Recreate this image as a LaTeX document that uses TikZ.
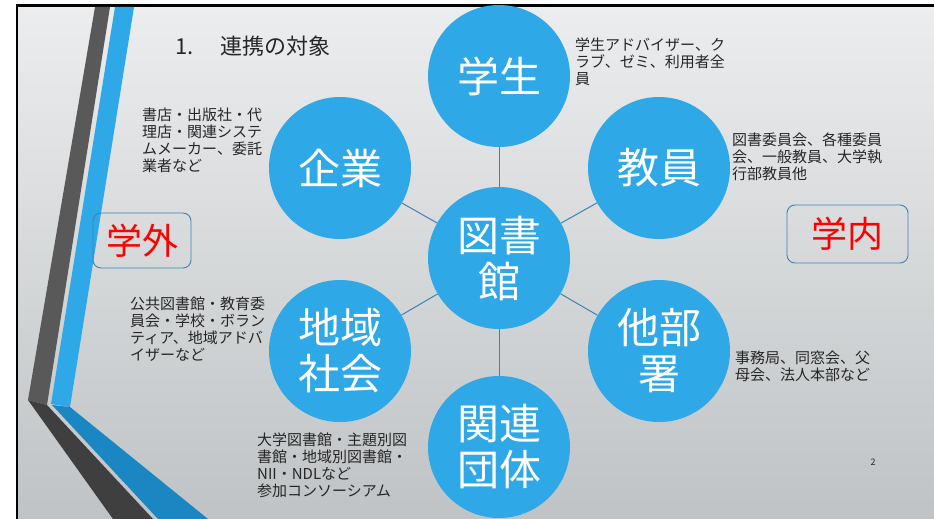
\documentclass[tikz,border=0pt]{standalone}
\usepackage{fontspec}
\setmainfont{Noto Sans CJK JP}
\usepackage{xcolor}
\usetikzlibrary{calc}

\definecolor{figlinkblue}{HTML}{2EA8E6}
\definecolor{figlinkline}{HTML}{3F82B2}
\definecolor{figlinkbox}{HTML}{3A84B8}
\definecolor{figlinkbgtop}{HTML}{ECEDEE}
\definecolor{figlinkbgbot}{HTML}{BFC3C5}
\definecolor{figlinkdark}{HTML}{595959}
\definecolor{figlinkdarker}{HTML}{3F3F3F}
\definecolor{figlinkdeep}{HTML}{1A86C2}

\begin{document}
\begin{tikzpicture}[x=1pt,y=-1pt,
    partner/.style={circle,fill=figlinkblue,text=white,inner sep=0pt,
        minimum size=2*\figlinkcircrad,align=center,
        font=\fontsize{42}{46}\selectfont},
    linkline/.style={draw=figlinkline,line width=1pt},
    notetext/.style={anchor=north west,inner sep=0pt,align=left,
        text=black!85,font=\fontsize{15}{16.9}\selectfont},
    zonebox/.style={draw=figlinkbox,line width=0.9pt,rounded corners=8pt,
        text=red,font=\fontsize{36}{40}\selectfont,inner sep=0pt}]
        \newcommand{\figlinkcircrad}{71}
        \newcommand{\figlinkleftx}{340}
        \newcommand{\figlinkmidx}{499}
        \newcommand{\figlinkrightx}{659}
        \useasboundingbox (0,0) rectangle (934,519);
        % slide background and frame
        \shade[top color=figlinkbgtop,bottom color=figlinkbgbot] (17,5.5) rectangle (934,519);
        \draw[line width=2.5pt] (17,519) -- (17,5.5) -- (934,5.5);
        % stripes on the left
        \fill[figlinkdark] (95,7) -- (110,7) -- (47,405) -- (28,400) -- cycle;
        \fill[figlinkblue] (115,7) -- (134,7) -- (70,407) -- (51,404) -- cycle;
        \fill[figlinkdarker] (28,400) -- (47,405) -- (153,519) -- (113,519) -- cycle;
        \fill[figlinkdeep] (52,405) -- (70,407) -- (208,519) -- (158,519) -- cycle;
        % title
        \node[anchor=north west,inner sep=0pt,text=black!85,font=\fontsize{22}{24}\selectfont]
            (title) at (175,36) {1.\hspace{27pt}連携の対象};
        % circles
        \node[partner] (tosho) at (\figlinkmidx,258) {図書\\館};
        \node[partner] (gakusei) at (\figlinkmidx,76) {学生};
        \node[partner] (kyoin) at (\figlinkrightx,168) {教員};
        \node[partner] (kigyo) at (\figlinkleftx,168) {企業};
        \node[partner] (chiiki) at (\figlinkleftx,351) {地域\\社会};
        \node[partner] (tabusho) at (\figlinkrightx,351) {他部\\署};
        \node[partner] (kanren) at (\figlinkmidx,447) {関連\\団体};
        \draw[linkline] (tosho) -- (gakusei);
        \draw[linkline] (tosho) -- (kyoin);
        \draw[linkline] (tosho) -- (kigyo);
        \draw[linkline] (tosho) -- (chiiki);
        \draw[linkline] (tosho) -- (tabusho);
        \draw[linkline] (tosho) -- (kanren);
        % notes beside the circles
        \node[notetext] (gakuseinote) at (575,38) {学生アドバイザー、ク\\ラブ、ゼミ、利用者全\\員};
        \node[notetext] (kigyonote) at (142,108) {書店・出版社・代\\理店・関連システ\\ムメーカー、委託\\業者など};
        \node[notetext] (kyoinnote) at (732,133) {図書委員会、各種委員\\会、一般教員、大学執\\行部教員他};
        \node[notetext] (chiikinote) at (130,297) {公共図書館・教育委\\員会・学校・ボラン\\ティア、地域アドバ\\イザーなど};
        \node[notetext] (tabushonote) at (735,351) {事務局、同窓会、父\\母会、法人本部など};
        \node[notetext] (kanrennote) at (257,433) {大学図書館・主題別図\\書館・地域別図書館・\\NII・NDLなど\\参加コンソーシアム};
        % inside / outside the university
        \node[zonebox,minimum width=98,minimum height=55] (gakugai) at (142,240.5) {学外};
        \node[zonebox,minimum width=121,minimum height=58] (gakunai) at (847.5,234) {学内};
        % page number
        \node[inner sep=0pt,text=black!85,font=\fontsize{9}{10}\selectfont] (pageno) at (873,462) {2};
\end{tikzpicture}
\end{document}
